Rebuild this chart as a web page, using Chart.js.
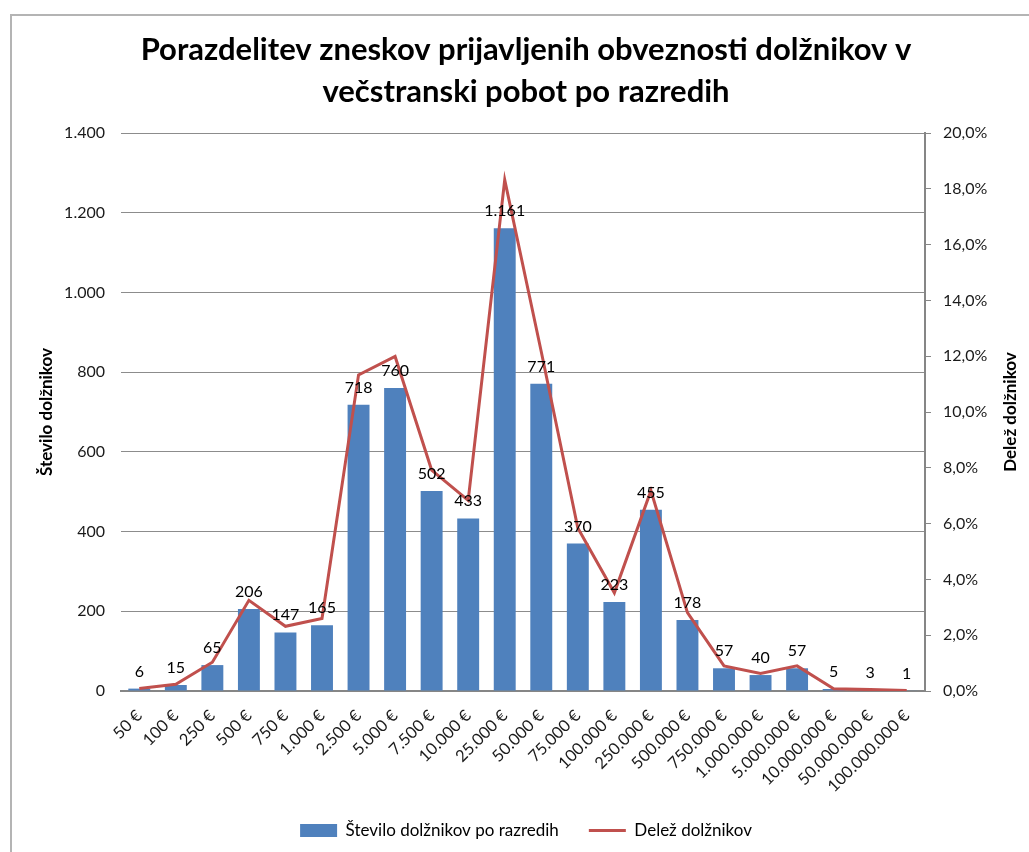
<!DOCTYPE html>
<html><head><meta charset="utf-8">
<script src="https://cdn.jsdelivr.net/npm/chart.js@4.4.0/dist/chart.umd.min.js"></script>
<style>
html,body{margin:0;padding:0;background:#fff;}
#wrap{position:relative;width:1029px;height:852px;overflow:hidden;}
#frame{position:absolute;left:10px;top:14px;width:1040px;height:860px;border:2px solid #b4b4b4;box-sizing:border-box;}
canvas{position:absolute;left:0;top:0;}
</style></head><body>
<div id="wrap"><div id="frame"></div><canvas id="c" width="1029" height="852"></canvas></div>
<script>
const categories = ["50 €","100 €","250 €","500 €","750 €","1.000 €","2.500 €","5.000 €","7.500 €","10.000 €","25.000 €","50.000 €","75.000 €","100.000 €","250.000 €","500.000 €","750.000 €","1.000.000 €","5.000.000 €","10.000.000 €","50.000.000 €","100.000.000 €"];
const counts = [6,15,65,206,147,165,718,760,502,433,1161,771,370,223,455,178,57,40,57,5,3,1];
const sharesPct = [0.09,0.24,1.03,3.25,2.32,2.60,11.33,11.99,7.92,6.83,18.32,12.16,5.84,3.52,7.18,2.81,0.90,0.63,0.90,0.08,0.05,0.02];
const countAxis = {min:0, max:1400, step:200};
const shareAxis = {min:0, max:20, step:2};
const titleLines = ["Porazdelitev zneskov prijavljenih obveznosti dolžnikov v","večstranski pobot po razredih"];
const barLabel = "Število dolžnikov po razredih";
const lineLabel = "Delež dolžnikov";
const leftTitle = "Število dolžnikov";
const rightTitle = "Delež dolžnikov";

const FONT = "Lato";
function fmt(n){ return String(n).replace(/\B(?=(\d{3})+(?!\d))/g, '.'); }

const barLabels = {
  id:'barLabels',
  afterDatasetsDraw(chart){
    const ctx = chart.ctx;
    const meta = chart.getDatasetMeta(0);
    ctx.save();
    ctx.font = '16px ' + FONT;
    ctx.fillStyle = '#000';
    ctx.textAlign = 'center';
    ctx.textBaseline = 'alphabetic';
    meta.data.forEach((el,i)=>{ ctx.fillText(fmt(counts[i]), el.x, el.y - 12); });
    ctx.restore();
  }
};
const rightTitlePlugin = {
  id:'rightTitle',
  afterDraw(chart){
    const ctx = chart.ctx;
    const a = chart.chartArea;
    ctx.save();
    ctx.font = 'bold 17px ' + FONT;
    ctx.fillStyle = '#000';
    ctx.textAlign = 'center';
    ctx.textBaseline = 'middle';
    ctx.translate(1011, (a.top + a.bottom)/2);
    ctx.rotate(-Math.PI/2);
    ctx.fillText(rightTitle, 0, 0);
    ctx.restore();
  }
};

new Chart(document.getElementById('c'), {
  data: {
    labels: categories,
    datasets: [
      {type:'bar', label:barLabel, data:counts, backgroundColor:'#4F81BD', barPercentage:0.6, categoryPercentage:1.0, yAxisID:'y', order:2},
      {type:'line', label:lineLabel, data:sharesPct, borderColor:'#C0504D', backgroundColor:'#C0504D', borderWidth:3, pointRadius:0, tension:0, yAxisID:'y1', order:1}
    ]
  },
  options: {
    responsive:false, animation:false, devicePixelRatio:1,
    layout:{padding:{left:30, right:7, top:0, bottom:3}},
    plugins:{
      tooltip:{enabled:false},
      title:{display:true, text:titleLines, color:'#000', font:{family:FONT, size:31, weight:'bold', lineHeight:'42px'}, padding:{top:29, bottom:20}},
      legend:{position:'bottom', labels:{usePointStyle:true, pointStyleWidth:37, boxHeight:13, color:'#000', padding:30, font:{family:FONT, size:17},
        sort:(a,b)=>a.datasetIndex-b.datasetIndex,
        generateLabels(chart){
          return chart.data.datasets.map((d,i)=>({text:d.label, fillStyle:d.type==='bar'?'#4F81BD':'#C0504D', strokeStyle:d.type==='bar'?'#4F81BD':'#C0504D', lineWidth:d.type==='bar'?0:3, pointStyle:d.type==='bar'?'rect':'line', datasetIndex:i, hidden:false, fontColor:'#000'}));
        }}}
    },
    scales:{
      x:{grid:{display:false, drawTicks:false}, border:{display:true, color:'#868686', width:2},
         ticks:{autoSkip:false, minRotation:45, maxRotation:45, padding:15, color:'#1a1a1a', font:{family:FONT, size:16.5}},
         afterFit(s){ s.height = 101; }},
      y:{position:'left', min:countAxis.min, max:countAxis.max,
         ticks:{stepSize:countAxis.step, padding:16, color:'#1a1a1a', font:{family:FONT, size:16}, callback:v=>fmt(v)},
         grid:{color:'#8c8c8c', drawTicks:false}, border:{display:false},
         title:{display:true, text:leftTitle, color:'#000', font:{family:FONT, size:17, weight:'bold'}, padding:{top:6, bottom:0}},
         afterFit(s){ s.width = 91; }},
      y1:{position:'right', min:shareAxis.min, max:shareAxis.max,
         ticks:{stepSize:shareAxis.step, padding:12, color:'#1a1a1a', font:{family:FONT, size:16}, callback:v=>v.toFixed(1).replace('.',',')+'%'},
         grid:{drawOnChartArea:false, color:'#868686', tickLength:6}, border:{display:true, color:'#868686', width:2},
         afterFit(s){ s.width = 97; }}
    }
  },
  plugins:[barLabels, rightTitlePlugin]
});
</script></body></html>
